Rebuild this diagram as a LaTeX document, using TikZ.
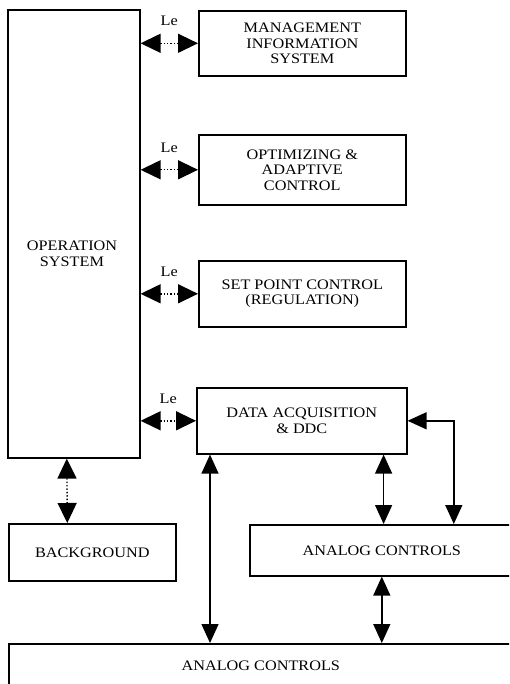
\documentclass[tikz,border=0pt]{standalone}
\usepackage{fontspec}
\setmainfont{Liberation Serif}[FakeStretch=1.12]
\usetikzlibrary{arrows.meta}
\tikzset{
  block/.style={draw, line width=1.6pt, rectangle, align=center, anchor=north west,
    inner sep=0pt, font=\fontsize{14.5}{15.5}\selectfont},
  lbl/.style={font=\fontsize{14.5}{15.5}\selectfont, align=center},
  lelink/.style={line width=1.4pt, dotted,
    {Triangle[length=20pt,width=19pt]}-{Triangle[length=20pt,width=19pt]}},
  link/.style={line width=1.4pt,
    {Triangle[length=19pt,width=17pt]}-{Triangle[length=19pt,width=17pt]}}
}

\begin{document}
\begin{tikzpicture}[x=1pt, y=-1pt]
\useasboundingbox (0,0) rectangle (509,684);
\clip (0,0) rectangle (509,684);
%%% boxes %%%
      \node[block, minimum width=132, minimum height=448] (os) at (7,9) {};
      \node[lbl] (ostext) at (72,254) {OPERATION\\SYSTEM};
      %%
      \node[block, minimum width=207, minimum height=65] (mis) at (198,10)
        {MANAGEMENT\\INFORMATION\\SYSTEM};
      \node[block, minimum width=207, minimum height=70] (opt) at (198,134)
        {OPTIMIZING \&\\ADAPTIVE\\CONTROL};
      \node[block, minimum width=207, minimum height=66] (spc) at (198,260)
        {SET POINT CONTROL\\(REGULATION)};
      \node[block, minimum width=210, minimum height=66] (daq) at (196,387)
        {DATA ACQUISITION\\\& DDC};
      %%
      \node[block, minimum width=167, minimum height=57] (bg) at (8,523) {BACKGROUND};
      \node[block, minimum width=264, minimum height=51] (ana1) at (249,524) {ANALOG CONTROLS};
      \node[block, minimum width=504, minimum height=44] (ana2) at (8,643) {ANALOG CONTROLS};
%%% links %%%
      \draw[lelink] (os.east |- mis.west) -- node[lbl, yshift=22pt] {Le} (mis.west);
      \draw[lelink] (os.east |- opt.west) -- node[lbl, yshift=22pt] {Le} (opt.west);
      \draw[lelink] (os.east |- spc.west) -- node[lbl, yshift=22pt] {Le} (spc.west);
      \draw[lelink] (os.east |- daq.west) -- node[lbl, yshift=22pt] {Le} (daq.west);
      \draw[lelink] ([xshift=-7pt]os.south) -- ([xshift=-25pt]bg.north);
      %%
      \draw[link] ([xshift=14pt]daq.south west) -- ([xshift=14pt]daq.south west |- ana2.north);
      \draw[link] ([xshift=-24pt]daq.south east) -- ([xshift=-24pt]daq.south east |- ana1.north);
      \draw[link] (daq.east) -| ([xshift=72pt]ana1.north);
      \draw[link] (ana1.south) -- (ana1.south |- ana2.north);
\end{tikzpicture}
\end{document}
